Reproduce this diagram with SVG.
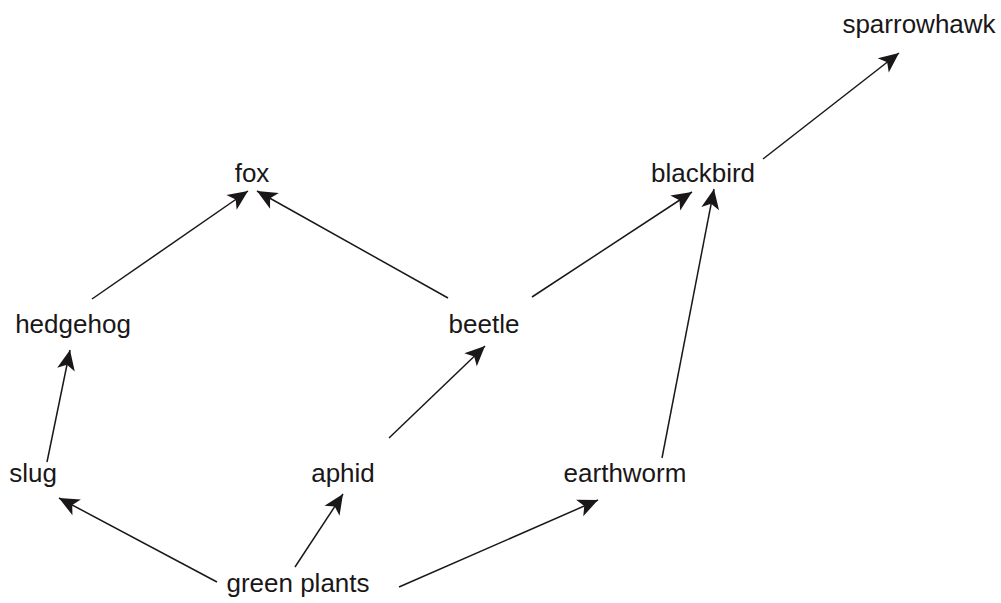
<svg xmlns="http://www.w3.org/2000/svg" width="1001" height="603" viewBox="0 0 1001 603">
<style>
.lbl{font-family:"Liberation Sans",Arial,sans-serif;font-size:26px;fill:#1a1718;text-anchor:middle}
.ln{stroke:#1a1718;stroke-width:1.5;fill:none;marker-end:url(#ah)}
</style>
<defs>
<marker id="ah" markerUnits="userSpaceOnUse" markerWidth="26" markerHeight="22" viewBox="-22 -11 26 22" refX="0" refY="0" orient="auto">
<path d="M0,0 L-20,-9 L-15,0 L-20,9 Z" fill="#1a1718"/>
</marker>
</defs>
<rect width="1001" height="603" fill="#fff"/>
<g id="connectors">
<line class="ln" x1="92" y1="299" x2="248" y2="191"/>
<line class="ln" x1="448" y1="298" x2="257" y2="191"/>
<line class="ln" x1="532" y1="297" x2="692" y2="192"/>
<line class="ln" x1="662" y1="458" x2="714" y2="189"/>
<line class="ln" x1="763" y1="159" x2="899" y2="53"/>
<line class="ln" x1="47" y1="462" x2="70" y2="350"/>
<line class="ln" x1="389" y1="438" x2="485" y2="346"/>
<line class="ln" x1="217" y1="582" x2="59" y2="498"/>
<line class="ln" x1="295" y1="567" x2="343" y2="494"/>
<line class="ln" x1="399" y1="587" x2="598" y2="500"/>
</g>
<g id="sparrowhawk"><text class="lbl" x="919" y="33">sparrowhawk</text></g>
<g id="fox"><text class="lbl" x="252" y="182">fox</text></g>
<g id="blackbird"><text class="lbl" x="703" y="182">blackbird</text></g>
<g id="hedgehog"><text class="lbl" x="73" y="333">hedgehog</text></g>
<g id="beetle"><text class="lbl" x="484" y="333">beetle</text></g>
<g id="slug"><text class="lbl" x="33" y="482">slug</text></g>
<g id="aphid"><text class="lbl" x="343" y="482">aphid</text></g>
<g id="earthworm"><text class="lbl" x="625" y="482">earthworm</text></g>
<g id="green-plants"><text class="lbl" x="298" y="592">green plants</text></g>
</svg>
